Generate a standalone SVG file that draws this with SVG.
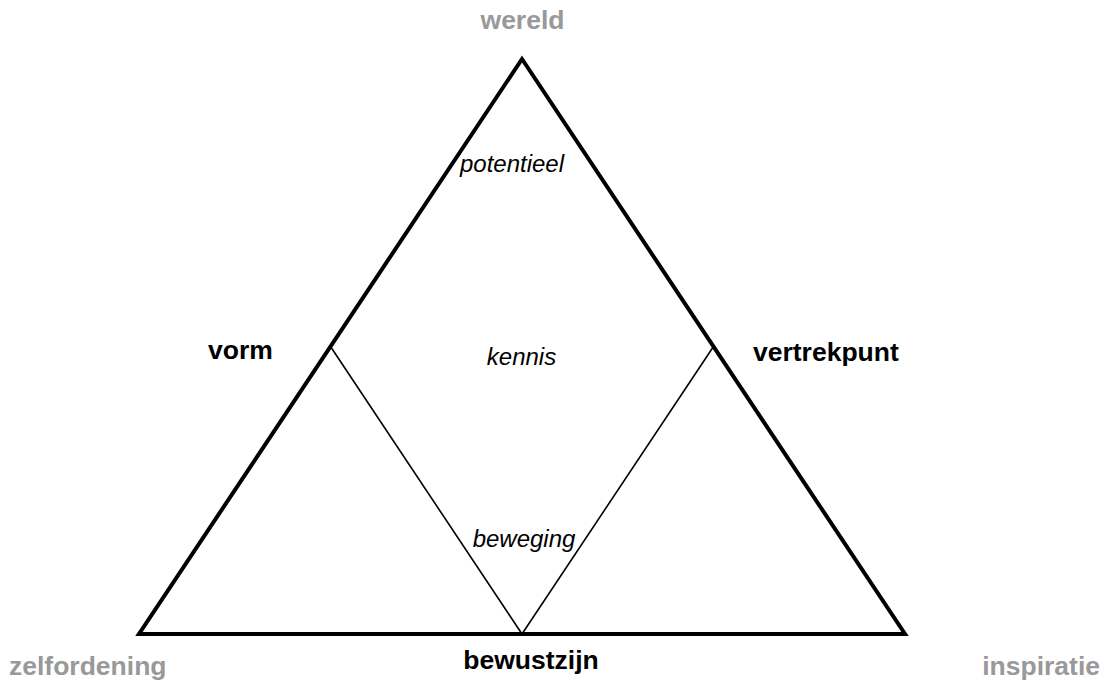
<svg xmlns="http://www.w3.org/2000/svg" width="1105" height="686" viewBox="0 0 1105 686">
<style>
.b{font-family:"Liberation Sans",Arial,sans-serif;font-weight:bold;font-size:26.5px;fill:#000}
.g{fill:#999}
.i{font-family:"Liberation Sans",Arial,sans-serif;font-style:italic;font-size:24px;fill:#000}
.outer{fill:none;stroke:#000;stroke-width:4;stroke-linejoin:miter}
.inner{fill:none;stroke:#000;stroke-width:1.6}
</style>
<rect width="1105" height="686" fill="#fff"/>
<g id="connectors">
<polygon class="outer" points="522,59 139,634 905,634"/>
<polyline class="inner" points="330.5,346.5 522,634 713.5,346.5"/>
</g>
<g id="wereld"><text class="b g" x="522.5" y="29" text-anchor="middle">wereld</text></g>
<g id="zelfordening"><text class="b g" x="9" y="675">zelfordening</text></g>
<g id="inspiratie"><text class="b g" x="1100" y="675" text-anchor="end">inspiratie</text></g>
<g id="bewustzijn"><text class="b" x="531" y="669" text-anchor="middle">bewustzijn</text></g>
<g id="vorm"><text class="b" x="208" y="359">vorm</text></g>
<g id="vertrekpunt"><text class="b" x="753" y="361">vertrekpunt</text></g>
<g id="potentieel"><text class="i" x="512" y="172" text-anchor="middle">potentieel</text></g>
<g id="kennis"><text class="i" x="521.5" y="365" text-anchor="middle">kennis</text></g>
<g id="beweging"><text class="i" x="524" y="547" text-anchor="middle">beweging</text></g>
</svg>
